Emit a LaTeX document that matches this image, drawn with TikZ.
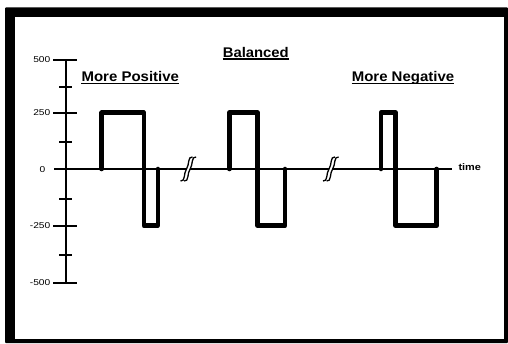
\documentclass[tikz,border=0pt]{standalone}
\usepackage{fontspec}
\usepackage{graphicx}
\setmainfont{Liberation Sans}
\begin{document}
\begin{tikzpicture}[x=1pt,y=-1pt,
  ticklabel/.style={anchor=east,inner sep=0pt,font=\fontsize{8.5}{9}\selectfont},
  title/.style={anchor=base,inner sep=0pt,font=\fontsize{14}{16}\selectfont\bfseries},
  axisline/.style={line width=2pt},
  majortick/.style={line width=2.4pt},
  minortick/.style={line width=2pt},
  wave/.style={line width=4.6pt,line join=round,line cap=round},
  breakline/.style={line width=1.3pt},
  ul/.style={line width=1.4pt}]
\useasboundingbox (0,0) rectangle (508,343);
\fill[white] (0,0) rectangle (508,343);
% frame
\fill[black,rounded corners=1pt] (5,7.3) rectangle (508,343);
\fill[white] (15,16.7) rectangle (504.3,339.3);
% axes
\draw[axisline] (66,60) -- (66,282.7);
\draw[axisline] (54,169.3) -- (451.7,169.3);
\foreach \y in {60,112.7,225.7,282.7} \draw[majortick] (53,\y) -- (77,\y);
\foreach \y in {87.3,141.7,198.5,254.7} \draw[minortick] (59,\y) -- (72,\y);
% tick labels
\node[ticklabel] (l500) at (50.5,60) {\scalebox{1.2}[1]{500}};
\node[ticklabel] (l250) at (50.5,112.7) {\scalebox{1.2}[1]{250}};
\node[ticklabel] (l0) at (45.5,169.3) {\scalebox{1.2}[1]{0}};
\node[ticklabel] (lm250) at (50.5,225.7) {\scalebox{1.2}[1]{-250}};
\node[ticklabel] (lm500) at (50.5,282.7) {\scalebox{1.2}[1]{-500}};
\node[anchor=west,inner sep=0pt,font=\fontsize{9.5}{10}\selectfont\bfseries] (time) at (458.3,167.5) {\scalebox{1.15}[1]{time}};
% titles
\node[title] (bal) at (255.8,57.3) {\scalebox{1.06}[1]{Balanced}};
\node[title] (pos) at (130.3,81.7) {\scalebox{1.07}[1]{More Positive}};
\node[title] (neg) at (403,81.7) {\scalebox{1.07}[1]{More Negative}};
\foreach \n in {bal,pos,neg}
  \draw[ul] ([yshift=-1.8pt]\n.base west) -- ([yshift=-1.8pt]\n.base east);
% waveforms
\draw[wave] (101.7,169) -- (101.7,112.7) -- (143.8,112.7) -- (143.8,225.7) -- (157.8,225.7) -- (157.8,169);
\draw[wave] (229.3,169) -- (229.3,112.7) -- (257.5,112.7) -- (257.5,225.7) -- (285,225.7) -- (285,169);
\draw[wave] (381,169) -- (381,112.7) -- (395.5,112.7) -- (395.5,225.7) -- (436.7,225.7) -- (436.7,169);
% breaks
\foreach \bx in {186.5,329} {
  \draw[white,line width=3.4pt] (\bx+7.8,157) .. controls (\bx+2.8,156) and (\bx+4.8,165) .. (\bx+1.8,169) .. controls (\bx-1.2,173) and (\bx+0.8,182) .. (\bx-4.2,181);
  \draw[breakline] (\bx+6,157) .. controls (\bx+1,156) and (\bx+3,165) .. (\bx,169) .. controls (\bx-3,173) and (\bx-1,182) .. (\bx-6,181);
  \draw[breakline] (\bx+9.6,157) .. controls (\bx+4.6,156) and (\bx+6.6,165) .. (\bx+3.6,169) .. controls (\bx+0.6,173) and (\bx+2.6,182) .. (\bx-2.4,181);
}
\end{tikzpicture}
\end{document}
